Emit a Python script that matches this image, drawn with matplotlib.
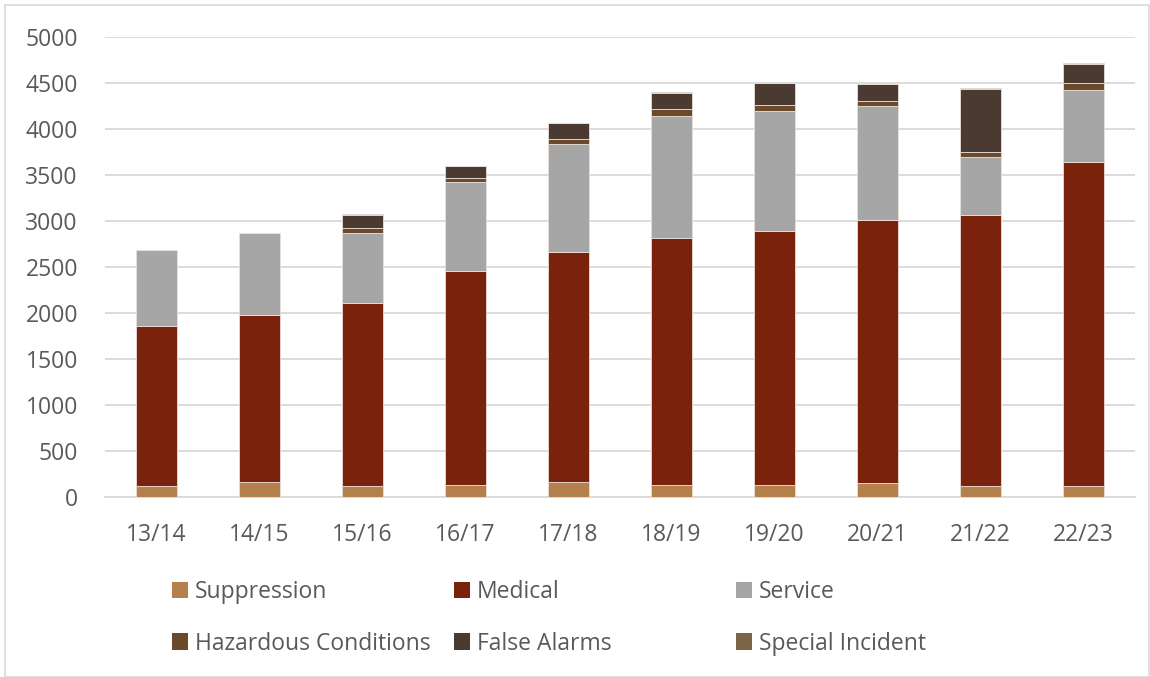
import numpy as np
import matplotlib
matplotlib.use('Agg')
import matplotlib.pyplot as plt
from matplotlib.patches import Rectangle, Patch

years = ['13/14', '14/15', '15/16', '16/17', '17/18', '18/19', '19/20', '20/21', '21/22', '22/23']
suppression = [115, 165, 120, 130, 165, 130, 130, 150, 120, 125]
medical = [1745, 1810, 1985, 2330, 2500, 2690, 2765, 2860, 2945, 3520]
service = [820, 895, 770, 965, 1175, 1325, 1300, 1240, 630, 780]
hazardous = [0, 0, 45, 40, 55, 70, 70, 55, 55, 80]
false_alarms = [0, 0, 150, 130, 170, 180, 230, 180, 690, 200]
special = [0, 0, 5, 5, 5, 5, 5, 5, 10, 10]

series = [
    ('Suppression', suppression, '#B5804B'),
    ('Medical', medical, '#7B220C'),
    ('Service', service, '#A6A6A6'),
    ('Hazardous Conditions', hazardous, '#6B4A2B'),
    ('False Alarms', false_alarms, '#4B3A32'),
    ('Special Incident', special, '#7A6645'),
]

plt.rcParams['font.family'] = 'Open Sans'
text_col = '#595959'
fs = 16.5

fig = plt.figure(figsize=(11.5, 6.77), dpi=100)
ax = fig.add_axes([105/1150, 1 - 497/677, 1030/1150, 460/677])

x = np.arange(len(years))
bottom = np.zeros(len(years))
handles = []
for name, vals, col in series:
    vals = np.array(vals, dtype=float)
    ax.bar(x, vals, 0.4, bottom=bottom, color=col, edgecolor='#e8e0d8', linewidth=0.6, zorder=3)
    bottom += vals
    handles.append(Patch(facecolor=col, label=name))

ax.set_xlim(-0.5, len(years) - 0.5)
ax.set_ylim(0, 5000)
ax.set_yticks(range(0, 5001, 500))
ax.set_xticks(x)
ax.set_xticklabels(years)
ax.tick_params(axis='both', length=0, labelsize=fs, colors=text_col)
ax.tick_params(axis='y', pad=19.5)
ax.tick_params(axis='x', pad=19)
ax.grid(axis='y', color='#d9d9d9', linewidth=1.3, zorder=0)
for s in ['top', 'right', 'left']:
    ax.spines[s].set_visible(False)
ax.spines['bottom'].set_color('#d9d9d9')
ax.spines['bottom'].set_linewidth(1.3)
ax.spines['bottom'].set_zorder(1)

# legend laid out in three columns of two rows
col_x = [172/1150, 454/1150, 736/1150]
for i, cx in enumerate(col_x):
    fig.legend(handles=[handles[i], handles[i + 3]], loc='upper left',
               bbox_to_anchor=(cx, 1 - 580/677), frameon=False, fontsize=fs,
               handlelength=0.7, handleheight=0.7, handletextpad=0.3,
               labelspacing=1.2, labelcolor=text_col, borderaxespad=0, borderpad=0)

fig.patches.append(Rectangle((5/1150, 0), 1 - 5/1150 - 1/1150, 1 - 5/677,
                             transform=fig.transFigure, fill=False,
                             edgecolor='#d9d9d9', linewidth=1.2))

fig.savefig('out.png', dpi=100)
